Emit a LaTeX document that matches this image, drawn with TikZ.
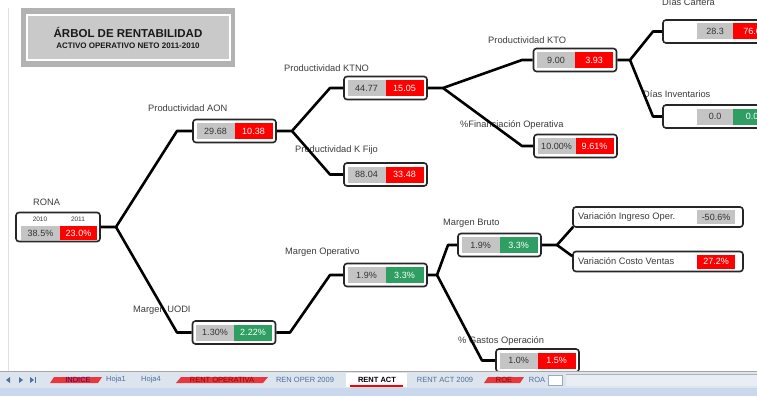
\documentclass[tikz,border=0pt]{standalone}
\usepackage{fontspec}
\setmainfont{Liberation Sans}
\usetikzlibrary{calc}
\definecolor{cellgray}{HTML}{C4C4C4}
\definecolor{cellred}{HTML}{FF0000}
\definecolor{cellgreen}{HTML}{2E9E62}
\definecolor{txtgray}{HTML}{333333}
\definecolor{lbltxt}{HTML}{3C3C3C}
\definecolor{tabbg}{HTML}{DCE4EE}
\definecolor{tabbg2}{HTML}{C9D8EC}
\definecolor{scrollbg}{HTML}{E9EEF4}
\definecolor{tabblue}{HTML}{4F6E9C}
\definecolor{tabred}{HTML}{E8383D}
\tikzset{
  outerbox/.style={draw=black!85, line width=1.6pt, rounded corners=3pt, fill=white,
    minimum width=83pt, minimum height=23pt, inner sep=0pt},
  cell/.style={minimum width=38pt, minimum height=16pt, inner sep=0pt,
    font=\fontsize{9}{10}\selectfont},
  gcell/.style={cell, fill=cellgray, text=txtgray},
  rcell/.style={cell, fill=cellred, text=white},
  vcell/.style={cell, fill=cellgreen, text=white},
  lbl/.style={anchor=west, font=\fontsize{9.3}{11}\selectfont, text=lbltxt, inner sep=0pt},
  conn/.style={line width=2.6pt, black, line join=round},
  tabtxt/.style={font=\fontsize{7.5}{9}\selectfont, text=tabblue, inner sep=1pt},
}
\newcommand{\valbox}[6]{%
  \node[outerbox] (#1) at (#2,#3) {};
  \node[gcell] (#1-l) at ($(#1.center)+(-19,0)$) {#4};
  \node[#5] (#1-r) at ($(#1.center)+(19,0)$) {#6};
}
\begin{document}
\begin{tikzpicture}[x=1pt,y=-1pt]
\useasboundingbox (0,0) rectangle (757,396);
\clip (0,0) rectangle (757,396);
\fill[white] (0,0) rectangle (757,396);
\draw[black!12, line width=0.8pt] (8,8) -- (8,371);

% title
\fill[black!30] (21,8) rectangle (235,67);
\draw[white, line width=1.2pt, fill=black!21] (27,15) rectangle (230,60);
\node[font=\bfseries\fontsize{11.5}{13}\selectfont, text=black!90] (title) at (128,32) {ÁRBOL DE RENTABILIDAD};
\node[font=\bfseries\fontsize{8}{9}\selectfont, text=black!90] (subtitle) at (128,46) {ACTIVO OPERATIVO NETO 2011-2010};

% RONA
\node[lbl] (lrona) at (33,202) {RONA};
\node[outerbox, minimum width=84pt, minimum height=29pt] (rona) at (58,227) {};
\node[font=\fontsize{6.5}{7}\selectfont, text=lbltxt] (y10) at (40,219) {2010};
\node[font=\fontsize{6.5}{7}\selectfont, text=lbltxt] (y11) at (78,219) {2011};
\node[gcell, minimum width=39pt, minimum height=14pt] (rona-l) at (40.5,233) {38.5\%};
\node[rcell, minimum width=37pt, minimum height=14pt] (rona-r) at (78.5,233) {23.0\%};

% value boxes
\valbox{aon}{234.5}{131}{29.68}{rcell}{10.38}
\valbox{uodi}{234}{332.5}{1.30\%}{vcell}{2.22\%}
\valbox{ktno}{385.5}{88}{44.77}{rcell}{15.05}
\valbox{kfijo}{385.5}{174.5}{88.04}{rcell}{33.48}
\valbox{kto}{575}{60}{9.00}{rcell}{3.93}
\valbox{fin}{575.5}{146}{10.00\%}{rcell}{9.61\%}
\valbox{moper}{385.5}{275}{1.9\%}{vcell}{3.3\%}
\valbox{mbruto}{499.5}{245}{1.9\%}{vcell}{3.3\%}
\valbox{gastos}{537.5}{360.5}{1.0\%}{rcell}{1.5\%}

% right-edge boxes (cut by the window)
\node[outerbox, minimum width=117pt] (dcart) at (721.5,31.5) {};
\node[gcell, minimum width=36pt] (dcart-l) at (715,31.5) {28.3};
\node[rcell] (dcart-r) at (752,31.5) {76.6};
\node[outerbox, minimum width=117pt] (dinv) at (721.5,116.5) {};
\node[gcell, minimum width=36pt] (dinv-l) at (715,116.5) {0.0};
\node[vcell] (dinv-r) at (752,116.5) {0.0};

% variation boxes
\node[outerbox, minimum width=170pt, minimum height=20pt] (ving) at (658,217) {};
\node[lbl] (ving-t) at (578,217) {Variación Ingreso Oper.};
\node[gcell, minimum height=14pt] (ving-v) at (716,217) {-50.6\%};
\node[outerbox, minimum width=170pt, minimum height=20pt] (vcos) at (658,261.5) {};
\node[lbl] (vcos-t) at (578,261.5) {Variación Costo Ventas};
\node[rcell, minimum height=14pt] (vcos-v) at (716,261.5) {27.2\%};

% labels
\node[lbl] (laon) at (148,108) {Productividad AON};
\node[lbl] (luodi) at (133,310) {Margen UODI};
\node[lbl] (lktno) at (284,68) {Productividad KTNO};
\node[lbl] (lkfijo) at (295,150) {Productividad K Fijo};
\node[lbl] (lkto) at (488,40) {Productividad KTO};
\node[lbl] (lfin) at (460,125) {\%Financiación Operativa};
\node[lbl] (ldcart) at (662,2) {Días Cartera};
\node[lbl] (ldinv) at (643,94) {Días Inventarios};
\node[lbl] (lmoper) at (285,252) {Margen Operativo};
\node[lbl] (lmbruto) at (443,223) {Margen Bruto};
\node[lbl] (lgastos) at (458,341) {\% Gastos Operación};

% junctions and bends
\coordinate (j1) at (116,227);
\coordinate (b1) at (177,131);
\coordinate (b2) at (177,332.5);
\coordinate (j2) at (292,131);
\coordinate (b3) at (330,88);
\coordinate (b4) at (330,174.5);
\coordinate (j3) at (443,88);
\coordinate (b5) at (522,60);
\coordinate (b6) at (522,146);
\coordinate (j4) at (630,60);
\coordinate (b7) at (653,31.5);
\coordinate (b8) at (653,116.5);
\coordinate (j5) at (290,332.5);
\coordinate (b9) at (330,275);
\coordinate (j6) at (437,275);
\coordinate (b10) at (448,245);
\coordinate (b11) at (482,360.5);
\coordinate (j7) at (557,245);

% connectors
\draw[conn] (rona.east) -- (j1) -- (b1) -- (aon.west);
\draw[conn] (j1) -- (b2) -- (uodi.west);
\draw[conn] (aon.east) -- (j2) -- (b3) -- (ktno.west);
\draw[conn] (j2) -- (b4) -- (kfijo.west);
\draw[conn] (ktno.east) -- (j3) -- (b5) -- (kto.west);
\draw[conn] (j3) -- (b6) -- (fin.west);
\draw[conn] (kto.east) -- (j4) -- (b7) -- (dcart.west);
\draw[conn] (j4) -- (b8) -- (dinv.west);
\draw[conn] (uodi.east) -- (j5) -- (b9) -- (moper.west);
\draw[conn] (moper.east) -- (j6) -- (b10) -- (mbruto.west);
\draw[conn] (j6) -- (b11) -- (gastos.west);
\draw[conn] (mbruto.east) -- (j7) -- ($(ving.south west)+(1,-1)$);
\draw[conn] (j7) -- ($(vcos.west)!0.5!(vcos.north west)$);

% sheet tab bar
\fill[tabbg] (0,371) rectangle (757,396);
\fill[tabbg2] (0,388) rectangle (757,396);
\draw[black!35, line width=0.6pt] (0,371.5) -- (757,371.5);
\fill[tabblue] (6,380) -- (10,377) -- (10,383) -- cycle;
\fill[tabblue] (19,377) -- (23,380) -- (19,383) -- cycle;
\fill[tabblue] (30,377) -- (34,380) -- (30,383) -- cycle;
\fill[tabblue] (35,377) rectangle (36,383);
\fill[tabred] (50,383) -- (54,377) -- (102,377) -- (98,383) -- cycle;
\node[tabtxt, text=violet!70!black] (tab1) at (78,380) {INDICE};
\node[tabtxt] (tab2) at (116,380) {Hoja1};
\node[tabtxt] (tab3) at (151,380) {Hoja4};
\fill[tabred] (176,383) -- (181,377) -- (268,377) -- (263,383) -- cycle;
\node[tabtxt, text=red!60!black] (tab4) at (222,380) {RENT OPERATIVA};
\node[tabtxt] (tab5) at (305,380) {REN OPER 2009};
\fill[white] (346,373) rectangle (407,387);
\draw[red, line width=1.2pt] (350,386) -- (403,386);
\node[tabtxt, text=black, font=\bfseries\fontsize{7.5}{9}\selectfont] (tab6) at (377,380) {RENT ACT};
\node[tabtxt] (tab7) at (445,380) {RENT ACT 2009};
\fill[tabred] (484,383) -- (488,377) -- (524,377) -- (520,383) -- cycle;
\node[tabtxt, text=red!60!black] (tab8) at (504,380) {ROE};
\node[tabtxt] (tab9) at (537,380) {ROA};
\draw[tabblue!60, fill=white] (548,375) rectangle (562,385);
\fill[scrollbg] (566,374) rectangle (757,386);
\draw[black!30, line width=0.5pt] (566,374) -- (757,374);
\end{tikzpicture}
\end{document}
